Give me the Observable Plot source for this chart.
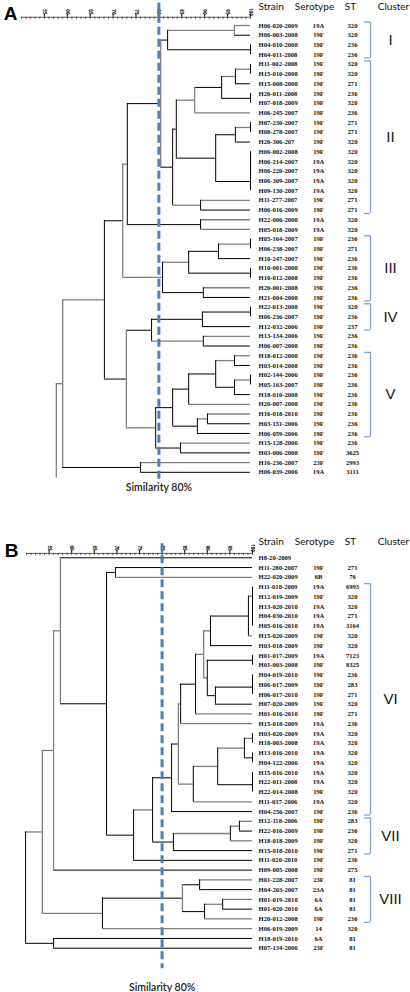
<!DOCTYPE html>
<html><head><meta charset="utf-8">
<script src="https://cdn.jsdelivr.net/npm/d3@7"></script>
<script src="https://cdn.jsdelivr.net/npm/@observablehq/plot@0.6"></script>
<style>body{margin:0;background:#fff}#chart{width:410px}#chart svg{display:block}</style>
</head><body><div id="chart"></div>
<script>
// ---------- shared ----------
const cutoff = 80;
const majorTicks = [55,60,65,70,75,80,85,90,95,100];
const minorTicks = d3.range(50, 101);
const headers = ["Strain","Serotype","ST","Cluster"];

// ---------- panel A ----------
const strainA = ["H06-020-2009","H06-003-2008","H04-010-2008","H04-011-2008","H11-002-2008","H15-010-2008","H15-008-2008","H20-011-2008","H07-018-2009","H06-245-2007","H07-230-2007","H08-278-2007","H20-306-207","H06-002-2008","H06-214-2007","H06-220-2007","H06-309-2007","H09-130-2007","H11-277-2007","H06-016-2009","H22-006-2008","H05-018-2009","H05-164-2007","H06-238-2007","H10-247-2007","H10-001-2008","H10-012-2008","H20-001-2008","H21-004-2008","H22-013-2008","H06-236-2007","H12-032-2006","H13-134-2006","H06-007-2008","H18-012-2008","H03-014-2008","H02-144-2006","H05-163-2007","H18-010-2008","H20-007-2008","H16-018-2010","H03-151-2006","H06-059-2006","H15-128-2006","H03-006-2008","H16-236-2007","H06-039-2006"];
const serotypeA = ["19A","19F","19F","19F","19F","19F","19F","19F","19F","19F","19F","19F","19F","19F","19A","19A","19A","19A","19F","19F","19A","19A","19F","19F","19F","19F","19F","19F","19F","19F","19F","19F","19F","19F","19F","19F","19F","19F","19F","19F","19F","19F","19F","19F","19F","23F","19A"];
const stA = ["320","320","236","236","320","320","271","236","320","236","271","271","320","320","320","320","320","320","271","271","320","320","236","271","236","236","236","236","236","320","236","237","236","236","236","236","236","236","236","236","236","236","236","236","3625","2993","3111"];
// merges: [child, child, similarity %]; numbers are leaves, "nK" is merge K
const mergesA = [
 [0,1,96.5],[2,3,100],["n0","n1",81.9],[4,5,100],["n3",6,96.7],[7,8,100],["n4","n5",93.7],["n6",9,87.8],
 [10,11,100],["n8",12,96.7],[13,14,100],["n10",15,100],["n11",16,100],["n12",17,100],["n9","n13",92.4],
 ["n7","n14",83.8],[18,19,89.1],["n15","n16",83.0],["n2","n17",80.4],[20,21,89.1],["n18","n19",73.1],
 [22,23,100],["n21",24,93.0],[25,26,100],["n22","n23",86.5],[27,28,89.7],["n24","n25",80.8],["n20","n26",72.1],
 [29,30,100],["n28",31,89.5],[32,33,89.7],["n29","n30",78.4],[34,35,96.5],[36,37,100],["n33",38,96.5],
 ["n32","n34",92.4],["n35",39,86.5],[40,41,90.6],["n37",42,88.4],["n36","n38",83.0],[43,44,84.7],
 ["n39","n40",79.3],["n31","n41",72.9],["n27","n42",68.1],[45,46,76.0],["n43","n44",59.0]
];
const rootTailA = [57.6, 46.6];           // [similarity, row slot where the root stem ends]
const clusterNamesA = ["I","II","III","IV","V"];
const clusterFirstA = [0,4,22,29,34];
const clusterLastA  = [3,19,28,31,42];

// ---------- panel B ----------
const strainB = ["H8-20-2009","H11-280-2007","H22-020-2009","H11-018-2009","H12-019-2009","H13-020-2010","H04-030-2010","H05-016-2010","H15-020-2009","H03-018-2009","H01-017-2009","H01-003-2008","H04-019-2010","H06-017-2009","H06-017-2010","H07-020-2009","H01-016-2010","H15-018-2009","H03-020-2009","H18-003-2008","H13-016-2010","H04-122-2006","H15-016-2010","H22-011-2008","H22-014-2008","H11-037-2006","H04-256-2007","H12-118-2006","H22-016-2009","H18-018-2009","H15-018-2010","H11-020-2010","H09-005-2008","H01-228-2007","H04-203-2007","H01-019-2010","H01-020-2010","H20-012-2008","H06-019-2009","H18-019-2010","H07-134-2006"];
const serotypeB = ["","19F","6B","19A","19F","19A","19A","19A","19F","19F","19A","19F","19F","19F","19F","19F","19F","19A","19A","19A","19A","19A","19A","19A","19F","19A","19F","19F","19F","19F","19F","19F","19F","23F","23A","6A","6A","19F","14","6A","23F"];
const stB = ["","271","76","6993","320","320","271","3164","320","320","7123","8325","236","283","271","320","271","236","320","320","320","320","320","320","320","320","236","283","236","320","271","236","275","81","81","81","81","236","320","81","81"];
const mergesB = [
 [6,7,100],[5,"n0",100],[4,"n1",100],[3,"n2",100],["n3",8,99.1],["n4",9,90.7],[10,11,100],[12,13,100],
 ["n7",14,100],["n8",15,91.8],["n6","n9",90.0],["n5","n10",89.2],["n11",16,87.4],["n12",17,84.1],
 [18,19,100],[20,21,100],["n14","n15",98.2],[22,23,100],["n17",24,100],["n16","n18",92.3],["n19",25,86.9],
 ["n13","n20",83.6],["n21",26,82.1],[27,28,97.1],["n23",29,95.1],["n24",30,82.5],["n22","n25",77.9],
 ["n26",31,73.7],[1,2,69.7],["n28","n27",67.7],[0,"n29",57.5],["n30",32,56.0],[33,34,88.3],[35,36,93.4],
 ["n33",37,89.4],["n32","n34",84.5],["n35",38,66.8],["n31","n36",53.5],[39,40,56.0],["n37","n38",49.8]
];
const clusterNamesB = ["VI","VII","VIII"];
const clusterFirstB = [3,27,33];
const clusterLastB  = [26,30,37];

// ---------- styling (kept apart from the data) ----------
const greyLinksA = new Set(["0","n0","4","5","n3","n4","9","n7","10","11","n8","n16","18","20","21","n21","n24","n26","n20","27","n30","32","n32","34","36","n33","39","n37","40","43","n43","45","n41"]);
const greyVertsA = new Set(["n0","n27","n42","n45","n18","n7"]);
const greyLinksB = new Set(["2","n3","8","n5","n11","n10","16","17","n16","n14","25","n19","n20","n26","n13","27","n23","29","n24","33","35","n33","37","38","n36","n30","n31","n37"]);
const greyVertsB = new Set(["n30","n31","n37","n11","n21","n35"]);

function layoutTree(merges, nLeaves) {
  const pos = {};
  for (let i = 0; i < nLeaves; i++) pos[i] = {x: 100, y: i};
  const h = [], v = [];
  merges.forEach(([a, b, sim], k) => {
    const id = "n" + k, pa = pos[a], pb = pos[b];
    pos[id] = {x: sim, y: (pa.y + pb.y) / 2};
    v.push({id, x: sim, y1: pa.y, y2: pb.y});
    h.push({id: String(a), x1: sim, x2: pa.x, y: pa.y});
    h.push({id: String(b), x1: sim, x2: pb.x, y: pb.y});
  });
  return {pos, h, v, root: pos["n" + (merges.length - 1)]};
}

function panel(o) {
  const t = layoutTree(o.merges, o.strain.length);
  const ppu = (o.xr[1] - o.xr[0]) / 50;
  const grey = "#7f7f7f", blue = "#4f7cba", brk = "#7e9dcc";
  const leaves = o.strain.map((s, i) => ({i, s, sero: o.sero[i], st: o.st[i]}));
  const clusters = o.cn.map((n, k) => ({n, a: o.cf[k] - 0.35, b: o.cl[k] + 0.35, m: (o.cf[k] + o.cl[k]) / 2}));
  const leafFont = {fontSize: 6.6, fontWeight: "bold", fontFamily: "Liberation Serif", fill: "#111"};
  const marks = [
    // axis
    Plot.ruleY([o.axisY], {x1: 50, x2: 100, stroke: "#333", strokeWidth: 0.8}),
    Plot.ruleX(minorTicks, {x: d => d, y1: o.axisY, y2: o.axisY + 0.22, stroke: "#333", strokeWidth: 0.8}),
    Plot.ruleX(majorTicks, {x: d => d, y1: o.axisY, y2: o.axisY - 0.3, stroke: "#000", strokeWidth: 1}),
    Plot.text(majorTicks, {x: d => d, y: o.axisY - 0.55, text: d => String(d), rotate: 90, fontSize: 4.5, fontWeight: "bold", fill: "#000"}),
    // tree
    Plot.ruleY(t.h, {y: "y", x1: "x1", x2: "x2", stroke: d => o.gl.has(d.id) ? grey : "#000", strokeWidth: d => o.gl.has(d.id) ? 1.3 : 1}),
    Plot.ruleX(t.v, {x: "x", y1: "y1", y2: "y2", stroke: d => o.gv.has(d.id) ? grey : "#000", strokeWidth: d => o.gv.has(d.id) ? 1.3 : 1})
  ];
  if (o.tail) {
    marks.push(Plot.ruleY([t.root], {y: "y", x1: "x", x2: () => o.tail[0], stroke: grey, strokeWidth: 1.3}));
    marks.push(Plot.ruleX([t.root], {x: () => o.tail[0], y1: "y", y2: () => o.tail[1], stroke: grey, strokeWidth: 1.3}));
  }
  marks.push(
    // cut-off
    Plot.ruleX([cutoff], {y1: o.cutY[0], y2: o.cutY[1], stroke: blue, strokeWidth: 3, strokeDasharray: "8,4"}),
    Plot.text([`Similarity ${cutoff}%`], {x: cutoff, y: o.capY, text: d => d, fontSize: 10.5, fontWeight: 600, fontFamily: "Lato", fill: "#222"}),
    // leaf labels
    Plot.text(leaves, {x: 100, y: "i", text: "s", dx: o.dx[0], textAnchor: "start", ...leafFont}),
    Plot.text(leaves, {x: 100, y: "i", text: "sero", dx: o.dx[1], ...leafFont}),
    Plot.text(leaves, {x: 100, y: "i", text: "st", dx: o.dx[2], ...leafFont}),
    // panel letter
    Plot.text([o.letter], {x: 50, y: o.letterY, text: d => d, dx: o.letterDx, fontSize: 19, fontWeight: "bold", fontFamily: "Liberation Sans", fill: "#000"}),
    // clusters
    Plot.ruleX(clusters, {x: 100, y1: "a", y2: "b", dx: o.dx[3], stroke: brk, strokeWidth: 1.2}),
    Plot.ruleY(clusters, {y: "a", x1: 100 - 6 / ppu, x2: 100, dx: o.dx[3], stroke: brk, strokeWidth: 1.2}),
    Plot.ruleY(clusters, {y: "b", x1: 100 - 6 / ppu, x2: 100, dx: o.dx[3], stroke: brk, strokeWidth: 1.2}),
    Plot.text(clusters, {x: 100, y: "m", text: "n", dx: o.dx[4], fontSize: 15, fontFamily: "Liberation Sans", fill: "#111"}),
    // column headers
    ...headers.map((h, i) => Plot.text([h], {x: 100, y: o.headY, text: d => d, dx: o.hdx[i], textAnchor: i === 0 ? "start" : "middle", fontSize: 10, fontFamily: "Lato", fill: "#111"}))
  );
  return Plot.plot({
    width: 410, height: o.height, margin: 0,
    x: {domain: [50, 100], range: o.xr, axis: null},
    y: {domain: o.yd, range: o.yr, axis: null},
    style: {background: "#fff", overflow: "visible"},
    marks
  });
}

const chart = document.getElementById("chart");
chart.append(panel({
  strain: strainA, sero: serotypeA, st: stA, merges: mergesA, tail: rootTailA,
  cn: clusterNamesA, cf: clusterFirstA, cl: clusterLastA, gl: greyLinksA, gv: greyVertsA,
  xr: [21, 250], yd: [0, 46], yr: [25, 471.8], height: 500,
  axisY: -0.85, headY: -1.95, letterY: -1.15, letterDx: -11, capY: 47.6, cutY: [-2.3, 46.9],
  dx: [8, 68, 102, 120, 140], hdx: [8, 64, 100, 143], letter: "A"
}));
chart.append(panel({
  strain: strainB, sero: serotypeB, st: stB, merges: mergesB, tail: null,
  cn: clusterNamesB, cf: clusterFirstB, cl: clusterLastB, gl: greyLinksB, gv: greyVertsB,
  xr: [26, 252], yd: [0, 40], yr: [57.3, 447.7], height: 492,
  axisY: -0.45, headY: -1.65, letterY: -0.75, letterDx: -15, capY: 44, cutY: [-1.45, 42.1],
  dx: [6, 66, 100, 118, 138], hdx: [6, 62, 98, 141], letter: "B"
}));
</script></body></html>
